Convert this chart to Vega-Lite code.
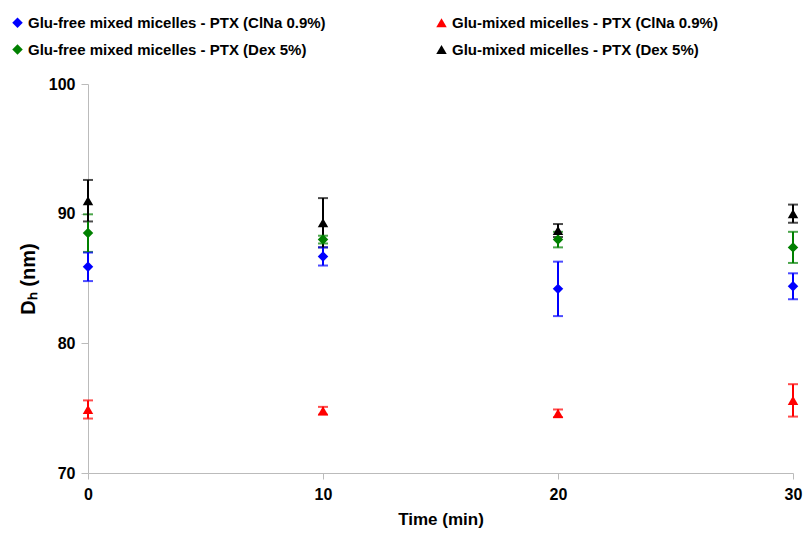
{
  "$schema": "https://vega.github.io/schema/vega-lite/v6.json",
  "autosize": "none",
  "width": 705,
  "height": 389,
  "padding": {"left": 88, "top": 84, "right": 15, "bottom": 60},
  "background": "white",
  "config": {
    "view": {"stroke": null},
    "font": "Liberation Sans"
  },
  "data": {
    "values": [
      {"series": "Glu-free mixed micelles - PTX (ClNa 0.9%)", "time": 0, "dh": 85.9, "err": 1.1},
      {"series": "Glu-free mixed micelles - PTX (ClNa 0.9%)", "time": 10, "dh": 86.7, "err": 0.7},
      {"series": "Glu-free mixed micelles - PTX (ClNa 0.9%)", "time": 20, "dh": 84.2, "err": 2.1},
      {"series": "Glu-free mixed micelles - PTX (ClNa 0.9%)", "time": 30, "dh": 84.4, "err": 1.0},
      {"series": "Glu-mixed micelles - PTX (ClNa 0.9%)", "time": 0, "dh": 74.9, "err": 0.7},
      {"series": "Glu-mixed micelles - PTX (ClNa 0.9%)", "time": 10, "dh": 74.8, "err": 0.3},
      {"series": "Glu-mixed micelles - PTX (ClNa 0.9%)", "time": 20, "dh": 74.6, "err": 0.3},
      {"series": "Glu-mixed micelles - PTX (ClNa 0.9%)", "time": 30, "dh": 75.6, "err": 1.25},
      {"series": "Glu-free mixed micelles - PTX (Dex 5%)", "time": 0, "dh": 88.5, "err": 1.45},
      {"series": "Glu-free mixed micelles - PTX (Dex 5%)", "time": 10, "dh": 88.0, "err": 0.3},
      {"series": "Glu-free mixed micelles - PTX (Dex 5%)", "time": 20, "dh": 88.0, "err": 0.6},
      {"series": "Glu-free mixed micelles - PTX (Dex 5%)", "time": 30, "dh": 87.4, "err": 1.2},
      {"series": "Glu-mixed micelles - PTX (Dex 5%)", "time": 0, "dh": 91.0, "err": 1.6},
      {"series": "Glu-mixed micelles - PTX (Dex 5%)", "time": 10, "dh": 89.3, "err": 1.9},
      {"series": "Glu-mixed micelles - PTX (Dex 5%)", "time": 20, "dh": 88.7, "err": 0.5},
      {"series": "Glu-mixed micelles - PTX (Dex 5%)", "time": 30, "dh": 90.0, "err": 0.7}
    ]
  },
  "encoding": {
    "x": {
      "field": "time", "type": "quantitative",
      "scale": {"domain": [0, 30], "nice": false, "zero": false},
      "axis": {
        "title": "Time (min)", "values": [0, 10, 20, 30],
        "grid": false, "domainColor": "#bbbbbb", "tickColor": "#bbbbbb",
        "tickSize": 6, "labelFontSize": 16, "labelFontWeight": "bold", "labelColor": "black",
        "labelPadding": 7, "titleFontSize": 17, "titleFontWeight": "bold", "titleColor": "black",
        "titlePadding": 9, "labelFlush": false
      }
    },
    "y": {
      "field": "dh", "type": "quantitative",
      "scale": {"domain": [70, 100], "nice": false, "zero": false},
      "axis": {
        "title": "Dₕ (nm)", "values": [70, 80, 90, 100],
        "grid": false, "domainColor": "#bbbbbb", "tickColor": "#bbbbbb",
        "tickSize": 7, "labelFontSize": 16, "labelFontWeight": "bold", "labelColor": "black",
        "labelPadding": 6, "titleFontSize": 20, "titleFontWeight": "bold", "titleColor": "black",
        "titlePadding": 10, "labelFlush": false
      }
    },
    "color": {
      "field": "series", "type": "nominal",
      "scale": {
        "domain": [
          "Glu-free mixed micelles - PTX (ClNa 0.9%)",
          "Glu-free mixed micelles - PTX (Dex 5%)",
          "Glu-mixed micelles - PTX (ClNa 0.9%)",
          "Glu-mixed micelles - PTX (Dex 5%)"
        ],
        "range": ["#0000ff", "#008000", "#ff0000", "#000000"]
      },
      "legend": {
        "title": null, "orient": "none", "legendX": -78, "legendY": -69,
        "columns": 2, "columnPadding": 108, "rowPadding": 11,
        "labelFontSize": 15, "labelFontWeight": "bold", "labelColor": "black",
        "labelLimit": 400, "symbolSize": 110, "symbolStrokeWidth": 0, "symbolOpacity": 1, "labelOffset": 3
      }
    }
  },
  "layer": [
    {
      "mark": {"type": "errorbar", "ticks": {"size": 10, "thickness": 2}, "thickness": 2},
      "encoding": {
        "yError": {"field": "err"}
      }
    },
    {
      "mark": {"type": "point", "filled": true, "opacity": 1, "size": 110},
      "encoding": {
        "shape": {
          "field": "series", "type": "nominal",
          "scale": {
            "domain": [
              "Glu-free mixed micelles - PTX (ClNa 0.9%)",
              "Glu-free mixed micelles - PTX (Dex 5%)",
              "Glu-mixed micelles - PTX (ClNa 0.9%)",
              "Glu-mixed micelles - PTX (Dex 5%)"
            ],
            "range": ["diamond", "diamond", "triangle-up", "triangle-up"]
          }
        }
      }
    }
  ]
}
